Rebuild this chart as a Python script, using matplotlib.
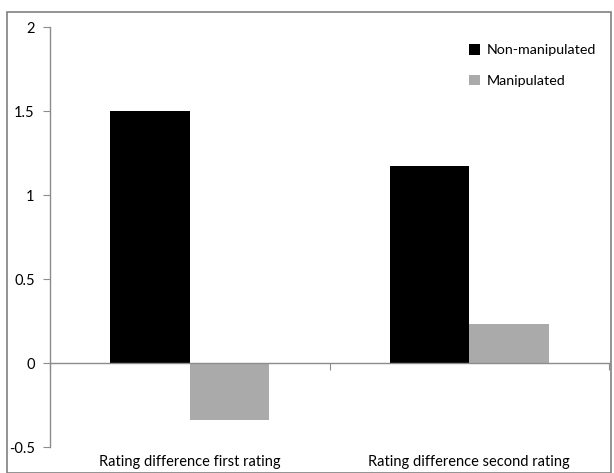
import matplotlib
matplotlib.use("Agg")
import matplotlib.pyplot as plt
from matplotlib.patches import Rectangle
import numpy as np

categories = ["Rating difference first rating", "Rating difference second rating"]
non_manipulated = [1.5, 1.17]
manipulated = [-0.34, 0.23]
series_names = ["Non-manipulated", "Manipulated"]

plt.rcParams["font.family"] = ["Lato", "DejaVu Sans"]

fig = plt.figure(figsize=(6.14, 4.73), dpi=100)
ax = fig.add_axes([50 / 614, 1 - 447 / 473, (609 - 50) / 614, (447 - 27) / 473])

# outer chart border
fig.patches.append(Rectangle((7 / 614, 0.0), 604 / 614, 1 - 12 / 473,
                             transform=fig.transFigure, fill=False,
                             edgecolor="#808080", linewidth=1.2))

x = np.arange(len(categories))
w = 0.285
ax.bar(x - w / 2, non_manipulated, w, color="black", label=series_names[0])
ax.bar(x + w / 2, manipulated, w, color="#aaaaaa", label=series_names[1])

ax.set_xlim(-0.5, 1.5)
ax.set_ylim(-0.5, 2)
ax.set_yticks([-0.5, 0, 0.5, 1, 1.5, 2])
ax.set_yticklabels(["-0.5", "0", "0.5", "1", "1.5", "2"])

for s in ["top", "right"]:
    ax.spines[s].set_visible(False)
ax.spines["bottom"].set_position(("data", 0))
for s in ["left", "bottom"]:
    ax.spines[s].set_color("#8c8c8c")
    ax.spines[s].set_linewidth(1.0)

ax.set_xticks([-0.5, 0.5, 1.5])
ax.set_xticklabels([])
ax.tick_params(axis="x", direction="out", length=5, color="#8c8c8c")
ax.tick_params(axis="y", direction="out", length=5, color="#8c8c8c",
               labelsize=10.5, pad=6)

for xi, lab in zip(x, categories):
    ax.text(xi, -0.545, lab, ha="center", va="top", fontsize=10.5,
            transform=ax.transData)

ax.legend(loc="upper right", bbox_to_anchor=(1.0, 0.99), frameon=False,
          fontsize=10.3, handlelength=0.75, handleheight=0.75, handletextpad=0.5,
          labelspacing=1.3)

fig.savefig("out.png", dpi=100)
